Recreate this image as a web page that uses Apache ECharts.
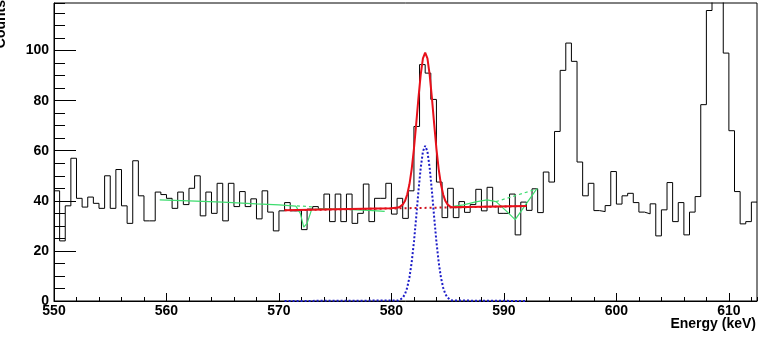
<!DOCTYPE html>
<html lang="en">

<head>
    <meta charset="UTF-8">
    <title>Energy spectrum</title>
    <script type="text/javascript" src="https://cdn.jsdelivr.net/npm/echarts/dist/echarts.min.js"></script>
    <style>
        body,
        html {
            margin: 0;
            width: 100%;
            height: 100%;
            background: #fff;
        }

        #spectrum {
            width: 762px;
            height: 340px;
        }
    </style>
</head>

<body>
    <div id="spectrum"></div>
</body>
<script type="text/javascript">
    // histogram: 0.5 keV bins starting at 550 keV
    var binStart = 550;
    var binWidth = 0.5;
    var counts = [
        44, 24, 38, 57, 41, 37.5, 41.5, 39, 37, 50,
        37, 52.5, 38, 31, 56, 42, 32, 32, 43.5, 42.5,
        41, 37, 43.5, 38.5, 45, 50, 34, 43.5, 35, 47,
        32, 47, 37.7, 43.7, 37.7, 40.8, 32.8, 44, 35.5, 28,
        36, 39.3, 36, 36, 28.5, 36.7, 37.7, 36.7, 42.7, 31.7,
        42.7, 31.7, 42.7, 31, 35, 46.7, 31.7, 41, 41, 47,
        34.7, 41, 33, 44, 69.7, 94.4, 91, 80.5, 47.5, 33.3,
        45, 33.3, 39.7, 35.4, 38.5, 44.6, 36, 45.4, 37.7, 35,
        35, 42.7, 26.4, 39.5, 36.2, 44.8, 35.3, 51.5, 47.5, 67.7,
        92.1, 103, 95.7, 55.5, 42, 47, 36.1, 35.7, 38.1, 51.7,
        38.7, 42, 43, 39.3, 35.5, 34.8, 38.8, 26, 36.4, 47.3,
        31.7, 39.3, 26.4, 35.5, 41.7, 78.4, 116, 140, 132, 99,
        68, 43.7, 30.8, 31.7, 39.5
    ];

    // total fit (red)
    var fitX = [570.5, 575, 580, 580.6, 580.8, 581.0, 581.2, 581.4, 581.6, 581.8,
        582.0, 582.2, 582.4, 582.6, 582.8, 583.0, 583.2, 583.4, 583.6, 583.8,
        584.0, 584.2, 584.4, 584.6, 584.8, 585.0, 585.2, 585.4, 588, 592];
    var fitY = [36.2, 36.6, 37.0, 37.3, 37.8, 38.5, 39.9, 42.5, 46.6, 52.7,
        60.8, 70.6, 81, 90.3, 96.9, 99.2, 96.9, 90.3, 81, 70.6,
        60.8, 52.7, 46.6, 42.5, 39.9, 38.5, 37.8, 37.4, 37.6, 37.9];

    // background under the peak (red dotted)
    var bgX = [570.5, 592];
    var bgY = [36.2, 37.9];

    // gaussian component (blue dotted)
    var peakX = [570.5, 580.6, 580.8, 581.0, 581.2, 581.4, 581.6, 581.8,
        582.0, 582.2, 582.4, 582.6, 582.8, 583.0, 583.2, 583.4, 583.6, 583.8,
        584.0, 584.2, 584.4, 584.6, 584.8, 585.0, 585.2, 585.4, 592];
    var peakY = [0, 0.2, 0.6, 1.3, 2.7, 5.3, 9.4, 15.5,
        23.6, 33.4, 43.8, 53.1, 59.7, 62, 59.7, 53.1, 43.8, 33.4,
        23.6, 15.5, 9.4, 5.3, 2.7, 1.3, 0.6, 0.2, 0];

    // smoothed background estimate (green), two pieces
    var greenAX = [559.4, 562, 565, 568, 570, 571.5, 571.9, 572.2, 572.5, 572.9, 574, 576, 578, 579.4];
    var greenAY = [40.4, 40.0, 39.5, 38.8, 38.4, 37.9, 35, 29.5, 31, 36.5, 36.8, 36.6, 36.2, 35.8];
    var greenBX = [585.5, 586.4, 587.5, 588.5, 589.3, 590.2, 591.0, 592.9];
    var greenBY = [37.8, 38.4, 39.6, 40.4, 39.7, 36, 32.5, 44.7];
    var greenDashX = [[571.6, 573.0], [589.3, 593.0]];
    var greenDashY = [[38, 37.6], [39.7, 44.8]];

    var xMin = 550, xMax = 612.5;
    var yMin = 0, yMax = 119;

    function pairs(xs, ys) {
        return xs.map(function (x, i) { return [x, ys[i]]; });
    }

    var histData = counts.map(function (c, i) { return [binStart + i * binWidth, c]; });
    histData.push([binStart + counts.length * binWidth, counts[counts.length - 1]]);

    var labelFont = {
        fontFamily: 'Liberation Sans',
        fontWeight: 'bold',
        fontSize: 14,
        color: '#000'
    };

    var myChart = echarts.init(document.getElementById('spectrum'), null, { renderer: 'canvas' });

    function lineSeries(data, color, width, type, z) {
        return {
            type: 'line',
            data: data,
            symbol: 'none',
            silent: true,
            z: z,
            lineStyle: { color: color, width: width, type: type }
        };
    }

    var option = {
        animation: false,
        grid: {
            left: 54,
            right: 5,
            top: 3,
            bottom: 39,
            show: true,
            borderColor: '#000',
            borderWidth: 1
        },
        xAxis: [
            {
                type: 'value',
                position: 'bottom',
                min: xMin,
                max: xMax,
                interval: 10,
                axisLine: { onZero: false, lineStyle: { color: '#000' } },
                axisTick: { inside: true, length: 8, lineStyle: { color: '#000' } },
                axisLabel: Object.assign({ margin: 3, showMaxLabel: false }, labelFont),
                splitLine: { show: false }
            },
            {
                // minor ticks every 2 keV
                type: 'value',
                position: 'bottom',
                min: xMin,
                max: xMax,
                interval: 2,
                axisLine: { show: false, onZero: false },
                axisTick: { inside: true, length: 4, lineStyle: { color: '#000' } },
                axisLabel: { show: false },
                splitLine: { show: false }
            }
        ],
        yAxis: [
            {
                type: 'value',
                position: 'left',
                min: yMin,
                max: yMax,
                interval: 20,
                axisLine: { show: true, onZero: false, lineStyle: { color: '#000' } },
                axisTick: { show: true, inside: true, length: 22, lineStyle: { color: '#000' } },
                axisLabel: Object.assign({ margin: 5, showMaxLabel: false }, labelFont),
                splitLine: { show: false }
            },
            {
                type: 'value',
                position: 'left',
                min: yMin,
                max: yMax,
                interval: 5,
                axisLine: { show: false, onZero: false },
                axisTick: { show: true, inside: true, length: 11, lineStyle: { color: '#000' } },
                axisLabel: { show: false },
                splitLine: { show: false }
            }
        ],
        graphic: [
            {
                type: 'text',
                x: 8,
                y: 0,
                rotation: Math.PI / 2,
                style: {
                    text: 'Counts',
                    font: 'bold 14px "Liberation Sans"',
                    fill: '#000',
                    align: 'right',
                    verticalAlign: 'bottom',
                    textAlign: 'right',
                    textVerticalAlign: 'bottom'
                }
            },
            {
                type: 'text',
                x: 756,
                y: 317,
                style: {
                    text: 'Energy (keV)',
                    font: 'bold 14px "Liberation Sans"',
                    fill: '#000',
                    align: 'right',
                    verticalAlign: 'top',
                    textAlign: 'right',
                    textVerticalAlign: 'top'
                }
            }
        ],
        series: [
            Object.assign(lineSeries(histData, '#000', 1, 'solid', 2), { step: 'end' }),
            lineSeries(pairs(greenAX, greenAY), '#3ddc6e', 1.2, 'solid', 3),
            lineSeries(pairs(greenBX, greenBY), '#3ddc6e', 1.2, 'solid', 3),
            lineSeries(pairs(greenDashX[0], greenDashY[0]), '#3ddc6e', 1.2, [3, 3], 3),
            lineSeries(pairs(greenDashX[1], greenDashY[1]), '#3ddc6e', 1.2, [3, 3], 3),
            lineSeries(pairs(bgX, bgY), '#d0101e', 2, [2, 3], 4),
            lineSeries(pairs(fitX, fitY), '#e8101a', 2, 'solid', 5),
            lineSeries(pairs(peakX, peakY), '#1c1cc8', 2, [2, 2], 6)
        ]
    };

    myChart.setOption(option);
</script>

</html>
